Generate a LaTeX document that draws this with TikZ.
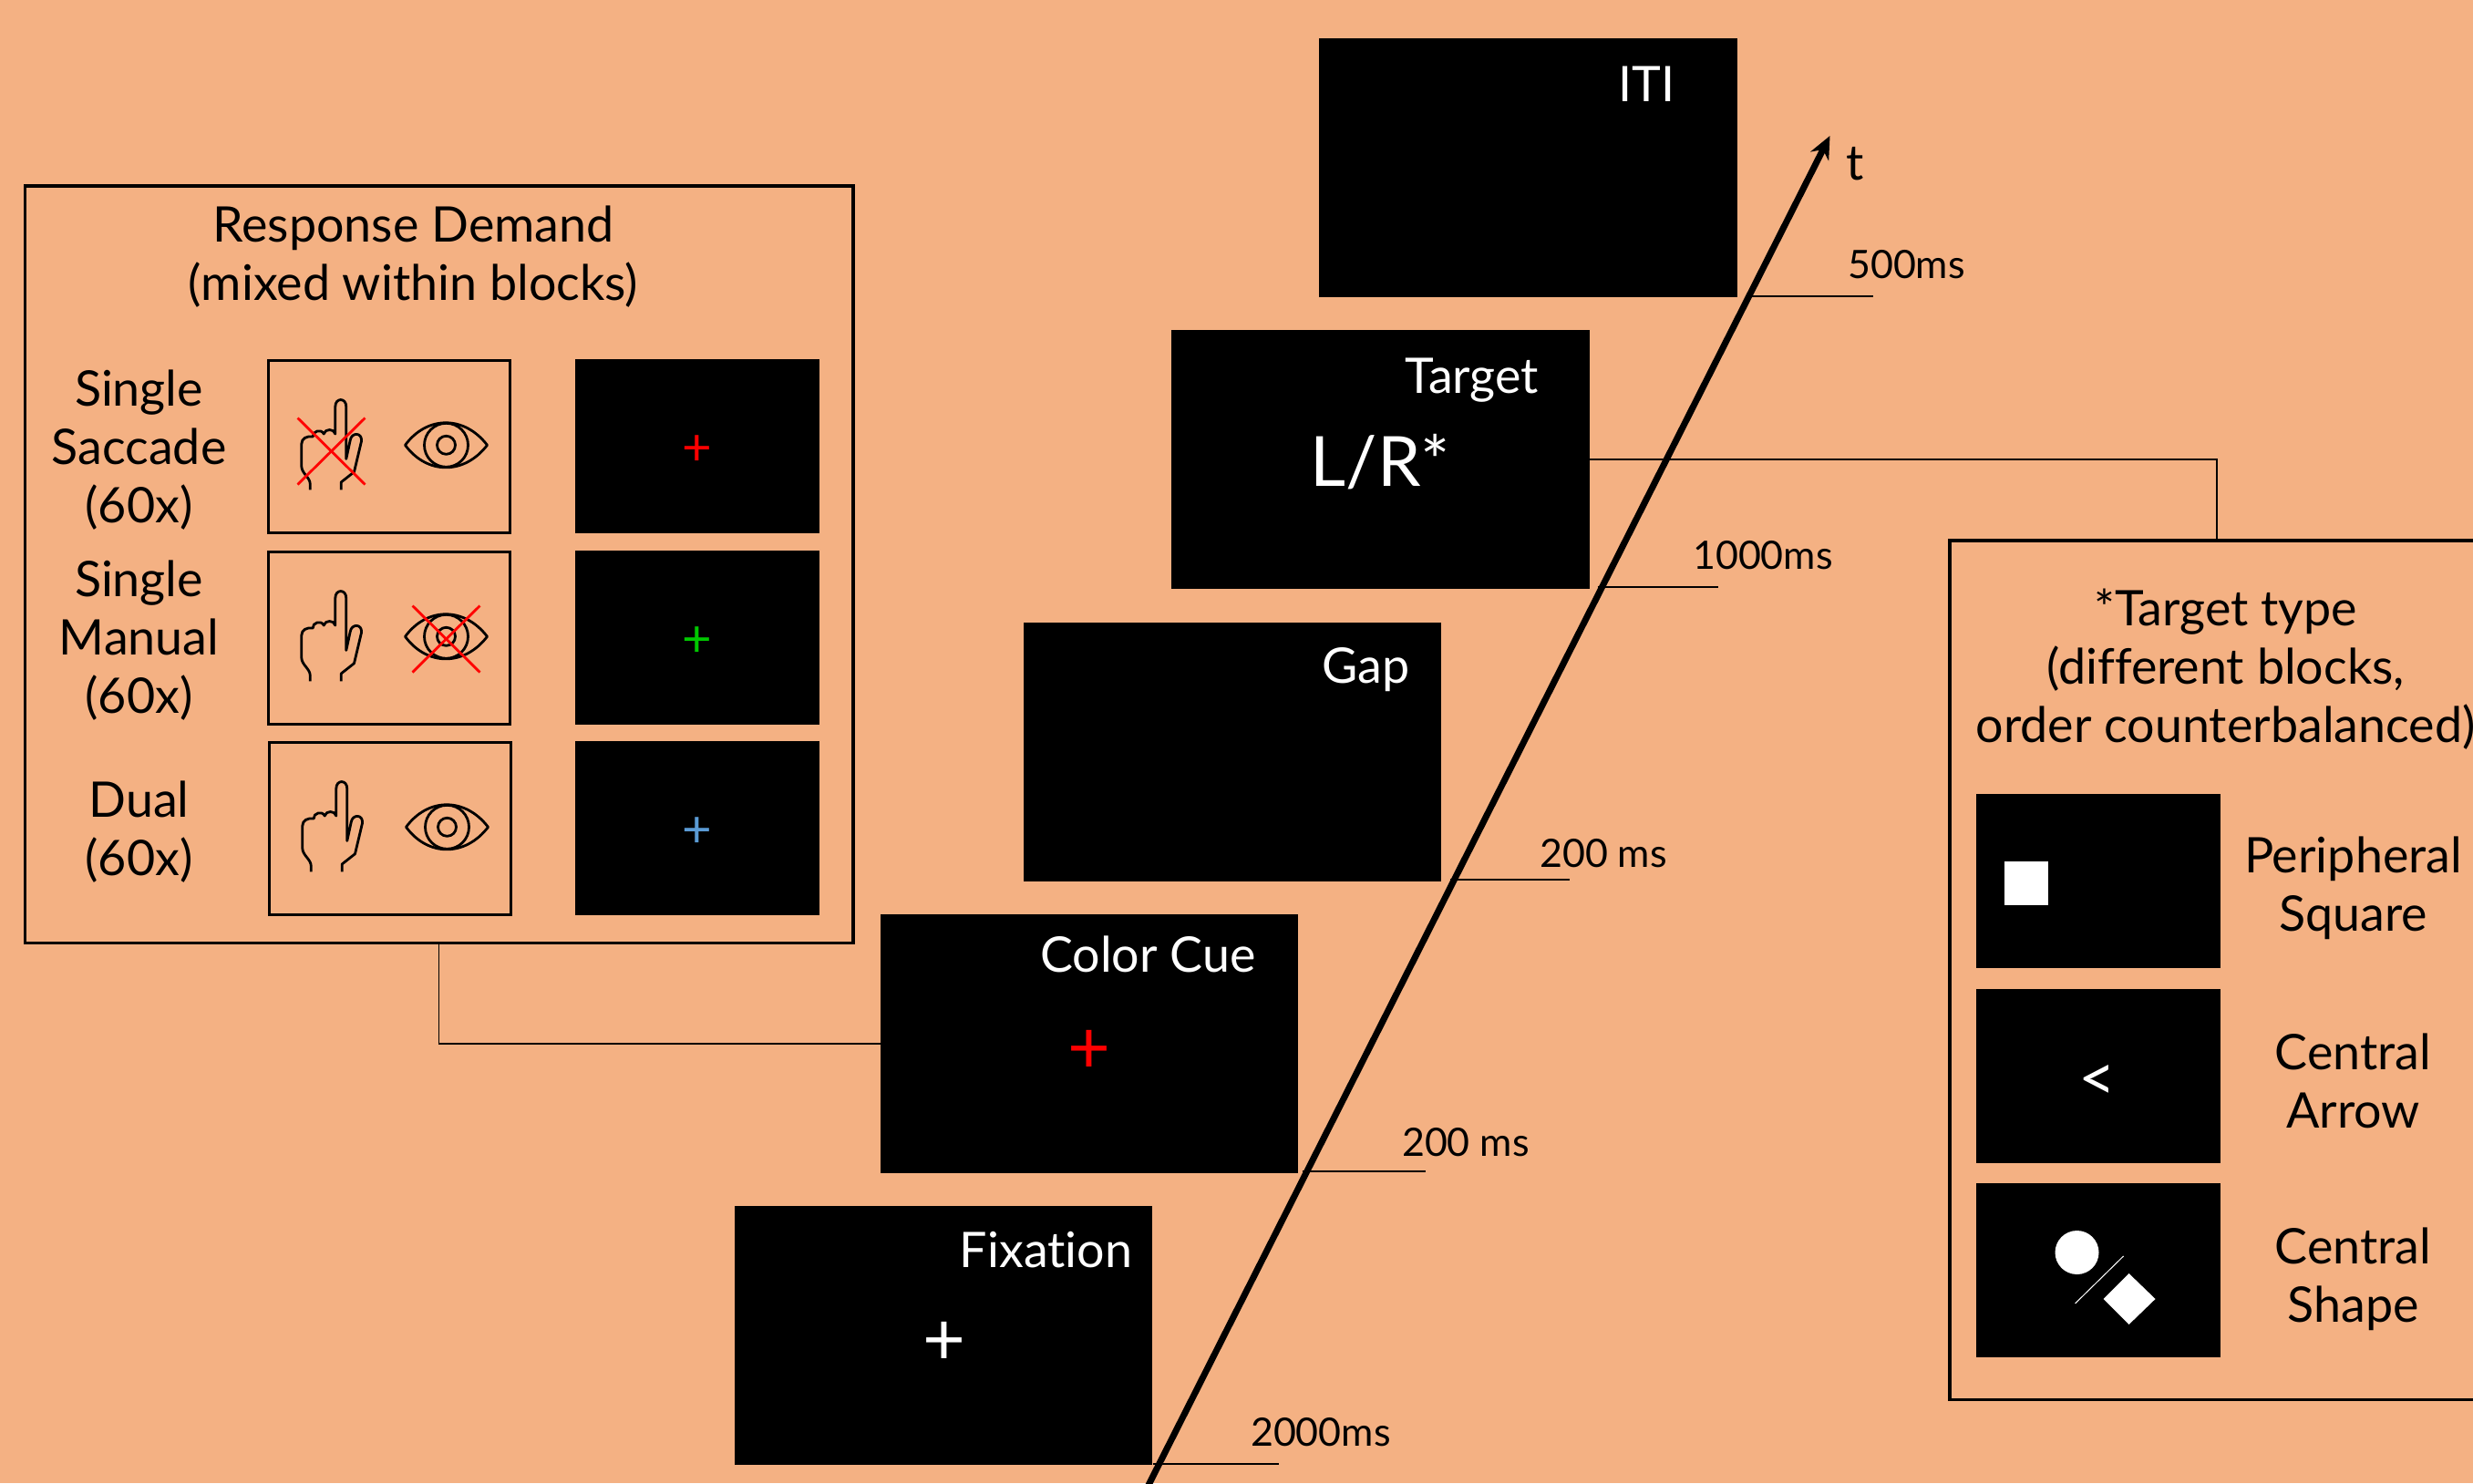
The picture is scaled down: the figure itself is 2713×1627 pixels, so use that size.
\documentclass[tikz,border=0pt]{standalone}
\usepackage{fontspec}
\setmainfont{Lato}[Ligatures=NoCommon]
\usetikzlibrary{arrows.meta, calc}
\definecolor{bgOrange}{RGB}{244, 177, 131}
\definecolor{cueBlue}{RGB}{91, 155, 213}
\definecolor{cueGreen}{RGB}{0, 200, 0}

\begin{document}
\begin{tikzpicture}[x=0.01cm, y=-0.01cm, >=Stealth, font=\fontsize{15.3}{18.2}\selectfont,
  scr/.style={fill=black, draw=none, anchor=north west, inner sep=0pt,
              minimum width=4.58cm, minimum height=2.84cm},
  cuescr/.style={scr, minimum width=2.68cm, minimum height=1.91cm},
  panel/.style={draw=black, line width=0.035cm, anchor=north west, inner sep=0pt},
  iconbox/.style={panel, line width=0.03cm, minimum width=2.65cm, minimum height=1.89cm},
  lab/.style={align=center, inner sep=0pt},
  scrlab/.style={lab, text=white},
  tick/.style={line width=0.015cm},
  ms/.style={anchor=west, inner sep=0pt, font=\fontsize{12.2}{16}\selectfont},
  conn/.style={line width=0.015cm},
  icon/.style={line width=0.028cm, line join=round},
  nogo/.style={red, line width=0.028cm},
  hand/.pic={
    \draw[icon] (47.7,143.3) -- (47.7,136.7) .. controls (47.7,130) and (38.3,125) .. (38.3,117.6)
      -- (38.3,93) .. controls (38.3,87) and (44,84) .. (50.7,85)
      .. controls (50,79) and (60,76) .. (62.7,82) .. controls (64,76) and (74,76) .. (75.3,82)
      -- (75.3,52.2) .. controls (75.3,42) and (87.3,42) .. (87.3,52.2) -- (87.3,109.4)
      -- (91.7,89) .. controls (93,80) and (105,80) .. (104,90) -- (96,123.7) -- (81.7,135) -- (81.7,143.3);
  },
  eye/.pic={
    \draw[icon] (152,94.3) .. controls (176,61.6) and (217,61.6) .. (242,94.3)
      .. controls (217,127) and (176,127) .. (152,94.3) -- cycle;
    \draw[icon] (197,94.3) circle (24);
    \draw[icon] (197,94.3) circle (10);
  },
  cross/.pic={
    \draw[nogo] (-37,-36.5) -- (37,36.5);
    \draw[nogo] (-37,36.5) -- (37,-36.5);
  }]

  \path[fill=bgOrange, use as bounding box] (1.5,1) rectangle (2714.5,1628);

  % trial screens
  \node[scr] (iti) at (1448,42) {};
  \node[scr] (target) at (1286,362) {};
  \node[scr] (gap) at (1124,683) {};
  \node[scr] (cue) at (967,1003) {};
  \node[scr] (fix) at (807,1323) {};
  \node[scrlab] (itilab) at (1808,93) {ITI};
  \node[scrlab] (targetlab) at (1616,418) {Target};
  \node[scrlab] (gaplab) at (1500,736) {Gap};
  \node[scrlab] (cuelab) at (1261,1048) {Color Cue};
  \node[scrlab] (fixlab) at (1149,1372) {Fixation};
  \node[scrlab, font=\fontsize{21.6}{26}\selectfont] (lr) at (1516,508) {L/R*};
  \node[lab, text=red, font=\fontsize{23}{28}\selectfont] (cueplus) at (1196,1155) {+};
  \node[scrlab, font=\fontsize{23}{28}\selectfont] (fixplus) at (1037,1475) {+};

  % time axis
  \coordinate (tstart) at (1258,1637);
  \coordinate (tend) at (2009,150);
  \draw[line width=0.07cm, arrows={-Stealth[length=0.25cm, width=0.22cm]}] (tstart) -- (tend);
  \node[lab] (tlab) at (2037,181) {t};

  \foreach \name/\xa/\xb/\y in {a/1922/2056/326, b/1754/1886/645, c/1592/1723/966, d/1430/1565/1286, e/1266/1404/1607} {
    \coordinate (t\name1) at (\xa,\y);
    \coordinate (t\name2) at (\xb,\y);
    \draw[tick] (t\name1) -- (t\name2);
  }
  \node[ms] (msa) at (2028,291) {500ms};
  \node[ms] (msb) at (1858,610) {1000ms};
  \node[ms] (msc) at (1690,937) {200 ms};
  \node[ms] (msd) at (1539,1254) {200 ms};
  \node[ms] (mse) at (1373,1572) {2000ms};

  % response demand
  \node[panel, minimum width=9.08cm, minimum height=8.30cm] (resp) at (27,203) {};
  \node[lab] (resplab) at (455,283) {Response Demand\\(mixed within blocks)};
  \node[lab] (sac) at (154,495) {Single\\Saccade\\(60x)};
  \node[lab] (man) at (154,704) {Single\\Manual\\(60x)};
  \node[lab] (dual) at (154,914) {Dual\\(60x)};

  \node[iconbox] (sacbox) at (294,395) {};
  \node[iconbox] (manbox) at (294,605) {};
  \node[iconbox] (dualbox) at (295,814) {};
  \foreach \b in {sacbox,manbox,dualbox} {
    \pic at (\b.north west) {hand};
    \pic at (\b.north west) {eye};
  }
  \pic at ([shift={(71,101)}]sacbox.north west) {cross};
  \pic at ([shift={(197,97)}]manbox.north west) {cross};

  \node[cuescr] (sacscr) at (632,394) {};
  \node[cuescr] (manscr) at (632,604) {};
  \node[cuescr] (dualscr) at (632,813) {};
  \node[lab, text=red, font=\fontsize{16}{20}\selectfont] (sacplus) at ([yshift=-0.05cm]sacscr.center) {+};
  \node[lab, text=cueGreen, font=\fontsize{16}{20}\selectfont] (manplus) at ([yshift=-0.05cm]manscr.center) {+};
  \node[lab, text=cueBlue, font=\fontsize{16}{20}\selectfont] (dualplus) at ([yshift=-0.05cm]dualscr.center) {+};

  % target type
  \node[panel, minimum width=5.86cm, minimum height=9.42cm] (type) at (2138.5,592) {};
  \node[lab] (typelab) at (2443,735) {*Target type\\(different blocks,\\order counterbalanced)};

  \node[cuescr] (perscr) at (2169,871) {};
  \node[cuescr] (arrscr) at (2169,1085) {};
  \node[cuescr] (shpscr) at (2169,1298) {};
  \node[lab] (perlab) at (2583,975) {Peripheral\\Square};
  \node[lab] (arrlab) at (2583,1187) {Central\\Arrow};
  \node[lab] (shplab) at (2583,1404) {Central\\Shape};

  \fill[white] (2200,946) rectangle (2248,994);
  \node[scrlab, font=\fontsize{20}{24}\selectfont] (arrow) at (2302,1189) {<};
  \fill[white] (2280,1375) circle (24);
  \draw[white, line width=0.01cm] (2278,1431) -- (2331,1379);
  \fill[white] (2337,1398) -- (2366,1426) -- (2337,1454) -- (2309,1426) -- cycle;

  % connectors
  \draw[conn] (target.east) -| (type.north);
  \draw[conn] (resp.south) |- (cue.west);

\end{tikzpicture}
\end{document}
